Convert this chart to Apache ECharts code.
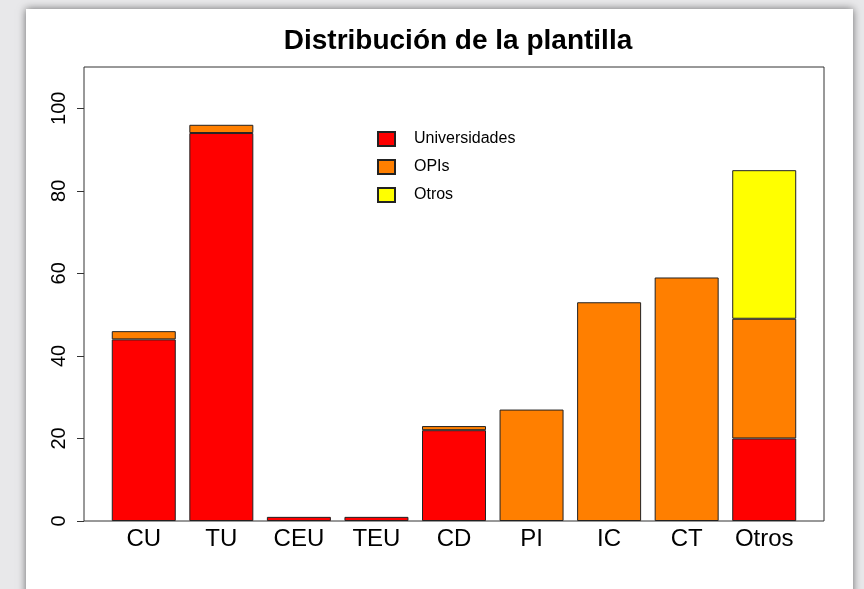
<!DOCTYPE html>
<html>
<head>
<meta charset="utf-8">
<script src="https://cdn.jsdelivr.net/npm/echarts@6/dist/echarts.min.js"></script>
<style>
  html, body { margin: 0; padding: 0; background: #e8e8ea; }
  #panel { position: absolute; left: 26px; top: 9px; width: 827px; height: 600px; background: #fff; box-shadow: 0 0 8px rgba(0,0,0,0.55); }
  #main { position: absolute; left: 0; top: 0; width: 864px; height: 589px; }
</style>
</head>
<body>
<div id="panel"></div>
<div id="main"></div>
<script>
var categorias = ['CU', 'TU', 'CEU', 'TEU', 'CD', 'PI', 'IC', 'CT', 'Otros'];
var universidades = [44, 94, 1, 1, 22, null, null, null, 20];
var opis = [2, 2, null, null, 1, 27, 53, 59, 29];
var otros = [null, null, null, null, null, null, null, null, 36];
var yTicks = [0, 20, 40, 60, 80, 100];

var fuente = "'Liberation Sans', Arial, Helvetica, sans-serif";

var chartDom = document.getElementById('main');
var myChart = echarts.init(chartDom);
var option;

function serie(nombre, datos, color) {
  return {
    name: nombre,
    type: 'bar',
    stack: 'total',
    barWidth: 64,
    data: datos,
    itemStyle: { color: color, borderColor: '#222', borderWidth: 1 },
    emphasis: { disabled: true }
  };
}

option = {
  animation: false,
  backgroundColor: 'transparent',
  textStyle: { fontFamily: fuente },
  title: {
    text: 'Distribución de la plantilla',
    left: 453,
    top: 22,
    textAlign: 'center',
    textStyle: { fontFamily: fuente, fontSize: 28, fontWeight: 'bold', color: '#000' }
  },
  legend: {
    orient: 'vertical',
    left: 377,
    top: 131,
    padding: 0,
    itemWidth: 17,
    itemHeight: 14,
    itemGap: 12,
    icon: 'rect',
    data: ['Universidades', 'OPIs', 'Otros'],
    textStyle: { fontFamily: fuente, fontSize: 16, color: '#000', lineHeight: 14, padding: [0, 0, 0, 14] }
  },
  grid: [
    { left: 105, right: 61, top: 67, bottom: 68 },
    { left: 84, right: 40, top: 67, bottom: 68, show: true, borderColor: '#333', borderWidth: 1, backgroundColor: 'transparent' }
  ],
  xAxis: [
    {
      type: 'category',
      gridIndex: 0,
      data: categorias,
      axisLine: { show: false },
      axisTick: { show: false },
      axisLabel: { fontFamily: fuente, fontSize: 24, color: '#000', margin: 6 }
    },
    { type: 'value', gridIndex: 1, show: false }
  ],
  yAxis: [
    {
      type: 'value',
      gridIndex: 0,
      min: 0,
      max: 110,
      interval: 20,
      offset: 21,
      splitLine: { show: false },
      axisLine: { show: false },
      axisTick: { show: true, length: 7, lineStyle: { color: '#333' }, customValues: yTicks },
      axisLabel: { fontFamily: fuente, fontSize: 20, color: '#000', rotate: 90, margin: 15, customValues: yTicks }
    },
    { type: 'value', gridIndex: 1, show: false }
  ],
  series: [
    serie('Universidades', universidades, '#ff0000'),
    serie('OPIs', opis, '#ff7f00'),
    serie('Otros', otros, '#ffff00')
  ]
};

option && myChart.setOption(option);
</script>
</body>
</html>
